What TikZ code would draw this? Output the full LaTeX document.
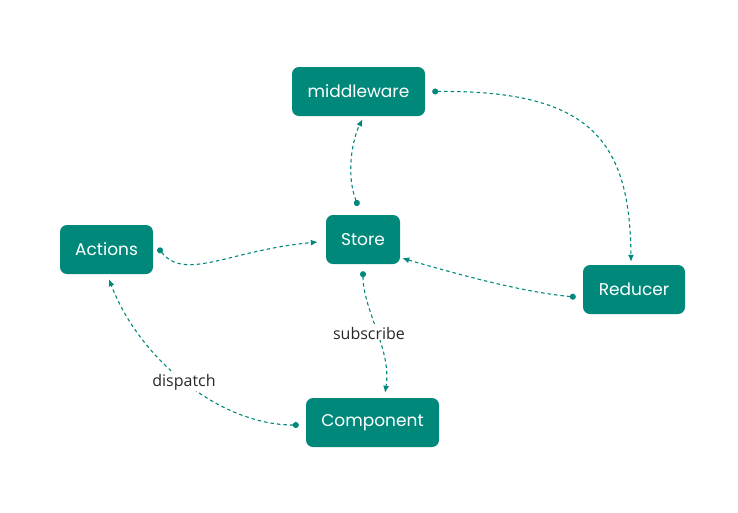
\documentclass[tikz,border=0pt]{standalone}
\usepackage{fontspec}
\setmainfont{Poppins}
\newfontfamily\labfont{Open Sans}
\usetikzlibrary{arrows.meta}
\definecolor{teal1}{RGB}{0,137,123}
\definecolor{labtxt}{RGB}{40,40,40}
\tikzset{
  box/.style={fill=teal1, draw=none, rounded corners=7pt, text=white,
    minimum height=49pt, inner sep=0pt, font=\fontsize{17}{20}\selectfont},
  conn/.style={draw=teal1, line width=1.1pt, dash pattern=on 3.5pt off 3pt,
    {Circle[length=6pt]}-{Latex[length=7pt,width=6pt]}},
  lab/.style={fill=white, inner sep=1pt, text=labtxt, font=\labfont\fontsize{16}{18}\selectfont}
}
\begin{document}
\begin{tikzpicture}[x=1pt,y=-1pt]
\useasboundingbox (0,0) rectangle (738,512);
\node[box, minimum width=133pt] (mw) at (358.5,91.5) {middleware};
\node[box, minimum width=74pt] (st) at (363,239.5) {Store};
\node[box, minimum width=93pt] (ac) at (106.5,249.5) {Actions};
\node[box, minimum width=102pt] (rd) at (634,289.5) {Reducer};
\node[box, minimum width=133pt] (cp) at (372.5,422.5) {Component};
% Store -> middleware
\draw[conn] ([shift={(-5pt,9pt)}]st.north) .. controls (346,175) and (352,140) .. ([shift={(4pt,-3pt)}]mw.south);
% middleware -> Reducer
\draw[conn] ([xshift=7pt]mw.east) .. controls (590,90) and (630,140) .. ([shift={(-3pt,3pt)}]rd.north);
% Reducer -> Store
\draw[conn] ([shift={(-7pt,-7.5pt)}]rd.west) .. controls (520,292) and (450,272) .. ([shift={(2pt,6pt)}]st.south east);
% Actions -> Store
\draw[conn] ([shift={(5pt,1.5pt)}]ac.east) .. controls (185,282) and (230,250) .. ([shift={(-8pt,-2.5pt)}]st.west);
% Store -> Component
\draw[conn] ([yshift=-7pt]st.south) .. controls (363,310) and (392,350) .. ([shift={(12.5pt,5pt)}]cp.north);
% Component -> Actions
\draw[conn] ([shift={(-7pt,-2.5pt)}]cp.west) .. controls (220,425) and (140,360) .. ([shift={(2.5pt,-5pt)}]ac.south);
\node[lab] (subl) at (369,333) {subscribe};
\node[lab] (disl) at (184,382) {dispatch};
\end{tikzpicture}
\end{document}
